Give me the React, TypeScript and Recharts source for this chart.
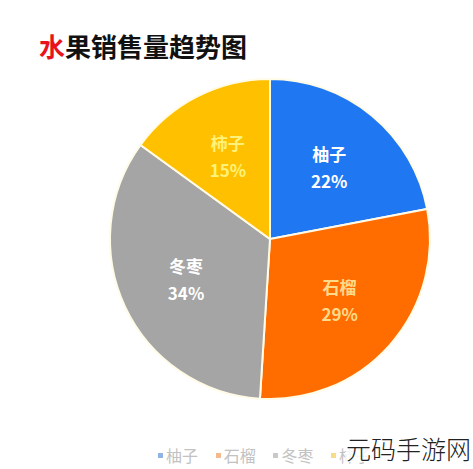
import { PieChart, Pie, Cell, Legend } from "recharts";

const fruits = ["柚子", "石榴", "冬枣", "柿子"];
const sales = [22, 29, 34, 15];
const colors = ["#1f77f2", "#ff6d00", "#a5a5a5", "#ffc000"];
const labelColors = ["#ffffff", "#ffd98a", "#ffffff", "#fff27a"];
const legendColors = ["#8fb3e6", "#f5b98f", "#c9c9c9", "#f7dc8a"];

const data = fruits.map((name, i) => ({ name, value: sales[i] }));

const RADIAN = Math.PI / 180;

function renderLabel(props: any) {
  const { cx, cy, midAngle, outerRadius, percent, name, index } = props;
  const r = outerRadius * 0.58;
  const x = cx + r * Math.cos(-midAngle * RADIAN);
  const y = cy + r * Math.sin(-midAngle * RADIAN);
  return (
    <text
      x={x}
      y={y}
      fill={labelColors[index]}
      textAnchor="middle"
      fontSize={17}
      fontWeight="bold"
      fontFamily="'Noto Sans CJK SC', sans-serif"
    >
      <tspan x={x} dy={-6}>{name}</tspan>
      <tspan x={x} dy={27}>{Math.round(percent * 100)}%</tspan>
    </text>
  );
}

function FruitLegend() {
  return (
    <div style={{ display: "flex", alignItems: "center", whiteSpace: "nowrap" }}>
      {fruits.map((name, i) => (
        <span
          key={name}
          style={{ display: "inline-flex", alignItems: "center", width: 57.7 }}
        >
          <span
            style={{
              display: "inline-block",
              width: 5,
              height: 5,
              background: legendColors[i],
              marginRight: 3,
            }}
          />
          <span style={{ color: "#c2c2c2", fontSize: 16, lineHeight: "17px" }}>{name}</span>
        </span>
      ))}
    </div>
  );
}

export default function App() {
  return (
    <div
      style={{
        position: "absolute",
        left: 0,
        top: 0,
        width: 473,
        height: 469,
        background: "#fff",
        overflow: "hidden",
        fontFamily: "'Noto Sans CJK SC', sans-serif",
      }}
    >
      <div
        style={{
          position: "absolute",
          left: 39,
          top: 29,
          fontSize: 26,
          fontWeight: "bold",
          color: "#111",
          lineHeight: "34px",
          whiteSpace: "nowrap",
        }}
      >
        <span style={{ color: "#e8131b" }}>水</span>果销售量趋势图
      </div>

      <PieChart width={473} height={469} margin={{ top: 0, right: 0, bottom: 0, left: 0 }}>
        <Pie
          data={data}
          dataKey="value"
          nameKey="name"
          cx={270}
          cy={239}
          outerRadius={160}
          startAngle={90}
          endAngle={-270}
          stroke="#fffbe6"
          strokeWidth={2}
          label={renderLabel}
          labelLine={false}
          isAnimationActive={false}
        >
          {data.map((d, i) => (
            <Cell key={d.name} fill={colors[i]} />
          ))}
        </Pie>
        <Legend
          content={<FruitLegend />}
          wrapperStyle={{ left: 158, top: 447, width: 320 }}
        />
      </PieChart>

      <div
        style={{
          position: "absolute",
          left: 346,
          top: 434,
          fontSize: 25,
          color: "#222",
          fontWeight: 300,
          lineHeight: "28px",
          whiteSpace: "nowrap",
          background: "rgba(255,255,255,0.85)",
        }}
      >
        元码手游网
      </div>
    </div>
  );
}
